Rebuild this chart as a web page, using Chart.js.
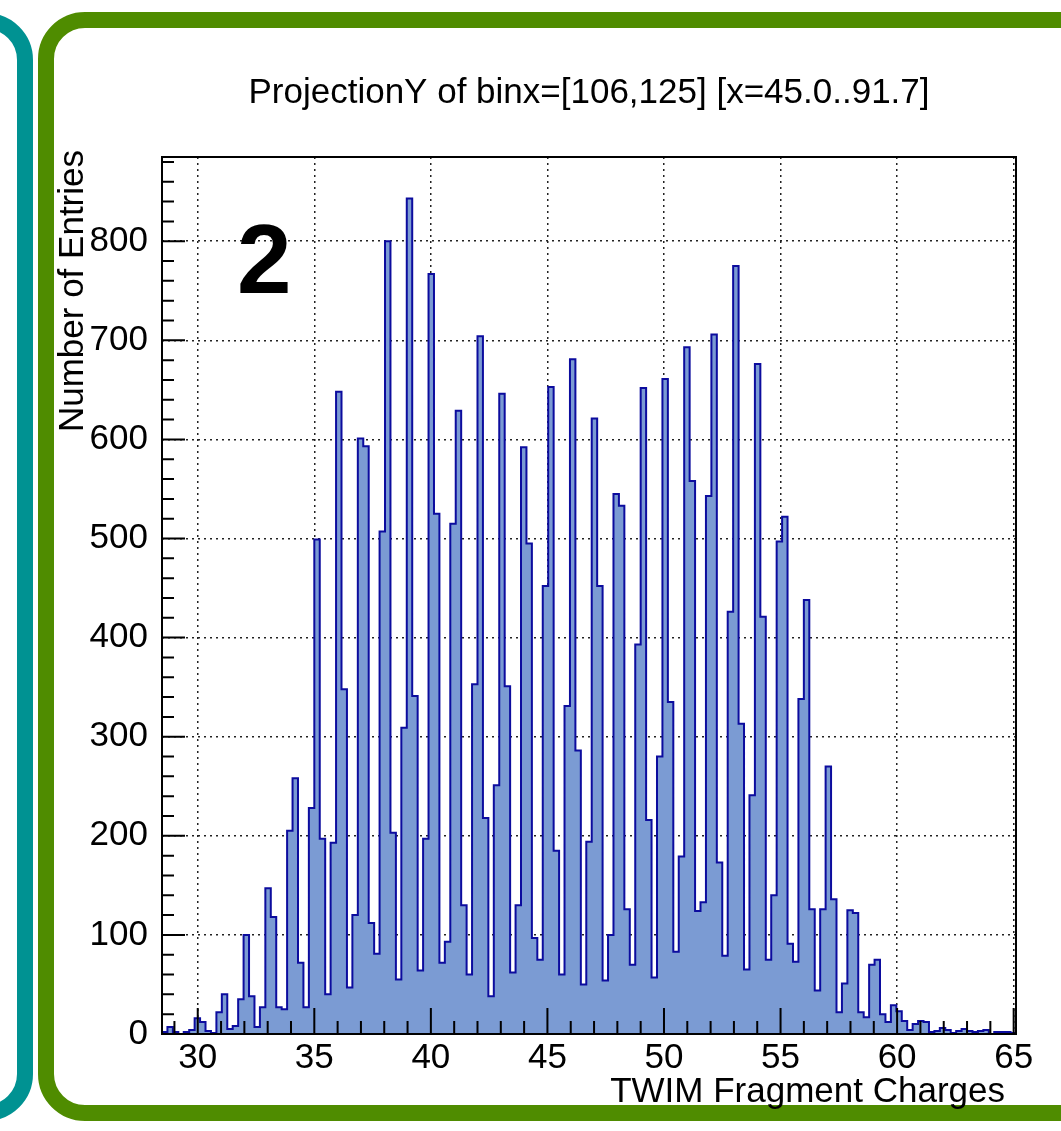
<!doctype html>
<html lang="en">
<head>
<meta charset="utf-8">
<title>ProjectionY of binx=[106,125]</title>
<script src="https://cdn.jsdelivr.net/npm/chart.js@4.4.1/dist/chart.umd.min.js"></script>
<style>
  html, body { margin: 0; padding: 0; background: #fff; }
  body { width: 1061px; height: 1131px; position: relative; overflow: hidden; }
  .box-teal { position: absolute; left: -300px; top: 13px; width: 333px; height: 1108px;
              box-sizing: border-box; border: 16px solid #009292; border-radius: 47px; }
  .box-green { position: absolute; left: 38px; top: 12px; width: 1200px; height: 1109px;
               box-sizing: border-box; border: 16px solid #4f8c00; border-radius: 47px; }
  #histo { position: absolute; left: 0; top: 0; }
</style>
</head>
<body>
<div class="box-teal"></div>
<div class="box-green"></div>
<canvas id="histo" width="1061" height="1131"></canvas>

<script>
  // TWIM charge axis: 300 bins over Z = 0..70, drawn from bin 122 on
  const nBins = 300;
  const zLow = 0;
  const zHigh = 70;
  const firstBin = 122;

  // entries per bin, bins 122..278
  const counts = [
      2,   7,   2,   0,   2,   4,  16,  12,   3,   1,
     22,  40,   5,   8,  35, 100,  38,   7,  27, 147,
    118,  27,  25, 205, 258,  72,  27, 228, 499, 197,
     40, 193, 648, 348,  47, 120, 601, 593, 112,  81,
    507, 800, 203,  55, 309, 843, 341,  64, 197, 767,
    525,  72,  93, 515, 629, 130,  60, 353, 704, 218,
     38, 251, 646, 351,  62, 130, 592, 495,  97,  75,
    452, 653, 185,  60, 331, 681, 286,  50, 194, 621,
    452,  54, 100, 545, 533, 126,  70, 393, 652, 216,
     57, 280, 661, 335,  83, 179, 693, 558, 124, 133,
    543, 706, 173,  79, 426, 775, 313,  65, 241, 676,
    421,  75, 140, 497, 522,  91,  73, 338, 438, 126,
     44, 126, 270, 136,  22,  51, 125, 122,  22,  17,
     70,  75,  20,  12,  29,  23,  13,   4,  10,  13,
     12,   2,   3,   6,   4,   1,   3,   5,   3,   2,
      3,   4,   0,   2,   2,   2,   1
  ];

  const xTicks = [30, 35, 40, 45, 50, 55, 60, 65];
  const yTicks = [0, 100, 200, 300, 400, 500, 600, 700, 800];
  const yMax = 885;

  const titleText = 'ProjectionY of binx=[106,125] [x=45.0..91.7]';
  const xTitle = 'TWIM Fragment Charges';
  const yTitle = 'Number of Entries';
  const padLabel = '2';

  const binWidth = (zHigh - zLow) / nBins;
  const xMin = zLow + firstBin * binWidth;
  const xMax = zLow + (firstBin + counts.length) * binWidth;

  // left edge of every bin, plus the closing right edge
  const points = counts.map((c, i) => ({ x: zLow + (firstBin + i) * binWidth, y: c }));
  points.push({ x: xMax, y: counts[counts.length - 1] });

  const fontFamily = '"Liberation Sans", Arial, Helvetica, sans-serif';

  // ROOT style: ticks inside the frame, frame box, titles
  const rootAxes = {
    id: 'rootAxes',
    afterDatasetsDraw(chart) {
      const { ctx, chartArea: a, scales: { x, y } } = chart;
      ctx.save();
      ctx.strokeStyle = '#000';
      ctx.lineWidth = 2;
      ctx.beginPath();
      for (let v = Math.ceil(x.min); v <= x.max; v++) {
        const px = x.getPixelForValue(v);
        const len = xTicks.includes(v) ? 26 : 13;
        ctx.moveTo(px, a.bottom);
        ctx.lineTo(px, a.bottom - len);
      }
      for (let v = 0; v <= y.max; v += 20) {
        const py = y.getPixelForValue(v);
        const len = yTicks.includes(v) ? 23 : 12;
        ctx.moveTo(a.left, py);
        ctx.lineTo(a.left + len, py);
      }
      ctx.stroke();
      ctx.strokeRect(a.left, a.top, a.right - a.left, a.bottom - a.top);
      ctx.restore();
    },
    afterDraw(chart) {
      const { ctx, chartArea: a } = chart;
      ctx.save();
      ctx.fillStyle = '#000';
      ctx.font = '35px ' + fontFamily;
      ctx.textBaseline = 'alphabetic';

      ctx.textAlign = 'center';
      ctx.fillText(titleText, (a.left + a.right) / 2, 103);

      ctx.textAlign = 'right';
      ctx.fillText(xTitle, a.right - 11, 1102);

      ctx.save();
      ctx.translate(83, a.top - 7);
      ctx.rotate(-Math.PI / 2);
      ctx.textAlign = 'right';
      ctx.fillText(yTitle, 0, 0);
      ctx.restore();

      ctx.font = 'bold 98px ' + fontFamily;
      ctx.textAlign = 'left';
      ctx.fillText(padLabel, 237, 293);
      ctx.restore();
    }
  };

  new Chart(document.getElementById('histo'), {
    type: 'line',
    data: {
      datasets: [{
        data: points,
        stepped: true,
        fill: 'origin',
        backgroundColor: '#7b9bd3',
        borderColor: '#0c0c9e',
        borderWidth: 2,
        pointRadius: 0,
        tension: 0
      }]
    },
    options: {
      responsive: false,
      animation: false,
      events: [],
      layout: { padding: { top: 157, left: 0, right: 45, bottom: 37 } },
      plugins: {
        legend: { display: false },
        tooltip: { enabled: false },
        title: { display: false }
      },
      scales: {
        x: {
          type: 'linear',
          min: xMin,
          max: xMax,
          afterBuildTicks: s => { s.ticks = xTicks.map(v => ({ value: v })); },
          afterFit: s => { s.height = 60; s.paddingLeft = 0; s.paddingRight = 0; },
          ticks: { padding: 3, color: '#000', font: { family: fontFamily, size: 35 } },
          grid: { drawTicks: false, color: '#222', lineWidth: 1.5 },
          border: { display: false, dash: [2, 4] }
        },
        y: {
          type: 'linear',
          min: 0,
          max: yMax,
          afterBuildTicks: s => { s.ticks = yTicks.map(v => ({ value: v })); },
          afterFit: s => { s.width = 162; s.paddingTop = 0; s.paddingBottom = 0; },
          ticks: { padding: 14, color: '#000', font: { family: fontFamily, size: 35 } },
          grid: { drawTicks: false, color: '#222', lineWidth: 1.5 },
          border: { display: false, dash: [2, 4] }
        }
      }
    },
    plugins: [rootAxes]
  });
</script>
</body>
</html>
